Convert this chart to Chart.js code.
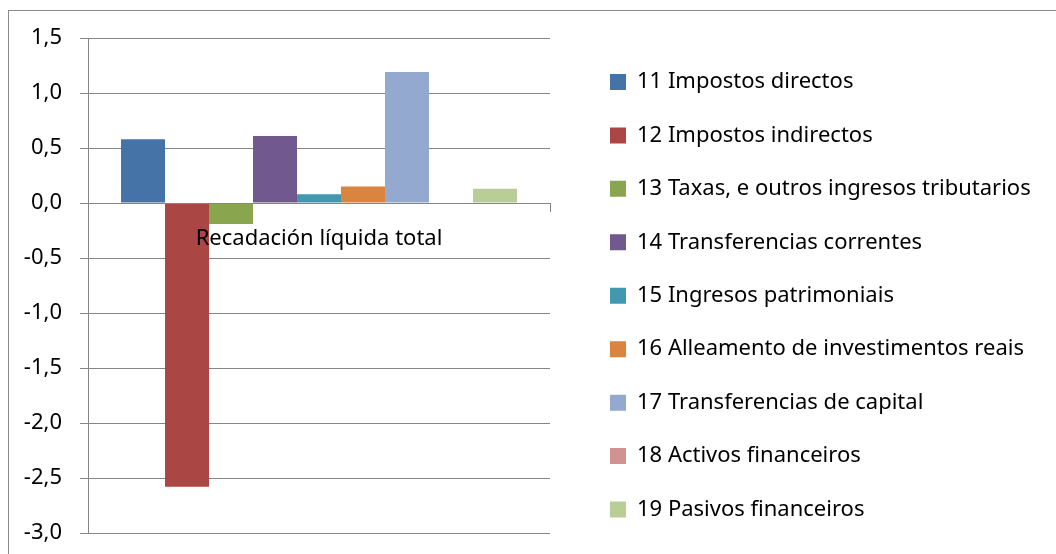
<!DOCTYPE html>
<html>
<head>
<meta charset="utf-8">
<script src="https://cdn.jsdelivr.net/npm/chart.js@4.4.1/dist/chart.umd.min.js"></script>
<style>
  body { margin: 0; background: #fff; overflow: hidden; }
  #wrap { position: relative; width: 1056px; height: 554px; }
  #frame { position: absolute; left: 8px; top: 10px; width: 1200px; height: 700px; border: 1px solid #8a8a8a; }
  #chart { position: absolute; left: 0; top: 0; }
</style>
</head>
<body>
<div id="wrap">
  <div id="frame"></div>
  <canvas id="chart" width="1056" height="554"></canvas>
</div>
<script>
const categories = ['Recadación líquida total'];
const seriesNames = [
  '11 Impostos directos',
  '12 Impostos indirectos',
  '13 Taxas, e outros ingresos tributarios',
  '14 Transferencias correntes',
  '15 Ingresos patrimoniais',
  '16 Alleamento de investimentos reais',
  '17 Transferencias de capital',
  '18 Activos financeiros',
  '19 Pasivos financeiros'
];
const seriesValues = [0.58, -2.58, -0.19, 0.61, 0.08, 0.15, 1.19, 0, 0.13];
const seriesColors = ['#4572A7', '#AA4643', '#89A54E', '#71588F', '#4198AF', '#DB843D', '#93A9CF', '#D19392', '#B9CD96'];
const yMin = -3, yMax = 1.5, yStep = 0.5;

const FONT = 'Noto Sans';
const FS = 22;
const gridColor = '#868686';
const itemGap = 53.45 - FS;
const plotRight = 550;
const legendBoxX = 610;

// width of the longest legend entry, so the legend starts where it should
const mctx = document.createElement('canvas').getContext('2d');
mctx.font = FS + 'px ' + FONT;
const longest = Math.max(...seriesNames.map(n => mctx.measureText(n).width));
const padRight = Math.max(0, 1056 - legendBoxX - (16 + FS / 2 + longest) - 10);

const datasets = seriesNames.map((name, i) => ({
  label: name,
  data: [seriesValues[i]],
  backgroundColor: seriesColors[i],
  borderWidth: 0,
  yAxisID: 'y',
  barPercentage: 1,
  categoryPercentage: 0.857
}));

Chart.defaults.font.family = FONT;
Chart.defaults.font.size = FS;
Chart.defaults.color = '#000';

new Chart(document.getElementById('chart').getContext('2d'), {
  type: 'bar',
  data: { labels: categories, datasets },
  options: {
    responsive: false,
    animation: false,
    layout: { padding: { left: 0, right: padRight, top: 0, bottom: 2 } },
    plugins: {
      tooltip: { enabled: false },
      legend: {
        position: 'right',
        align: 'end',
        maxWidth: 700,
        labels: { boxWidth: 16, boxHeight: 16, padding: itemGap, font: { size: FS, family: FONT }, color: '#000' }
      }
    },
    scales: {
      x: {
        type: 'category',
        position: { y: 0 },
        offset: true,
        grid: { display: true, drawOnChartArea: false, drawTicks: true, tickLength: 8, offset: true, color: gridColor, z: 1 },
        border: { display: true, color: gridColor, width: 1, z: 1 },
        ticks: { padding: 15, font: { size: FS, family: FONT }, color: '#000', maxRotation: 0, z: 1 }
      },
      y: {
        position: 'left',
        min: yMin,
        max: yMax,
        grid: { color: gridColor, tickLength: 8, drawTicks: true },
        border: { display: true, color: gridColor, width: 1 },
        ticks: {
          stepSize: yStep,
          padding: 18,
          font: { size: FS, family: FONT },
          color: '#000',
          callback: v => v.toFixed(1).replace('.', ',')
        },
        afterFit: s => { s.width = 88; s.paddingTop = 38; s.paddingBottom = 21; }
      },
      y2: {
        position: 'right',
        display: true,
        grid: { display: false },
        border: { display: false },
        ticks: { display: false },
        afterFit: s => { s.width = legendBoxX - itemGap - plotRight; }
      }
    }
  }
});
</script>
</body>
</html>
